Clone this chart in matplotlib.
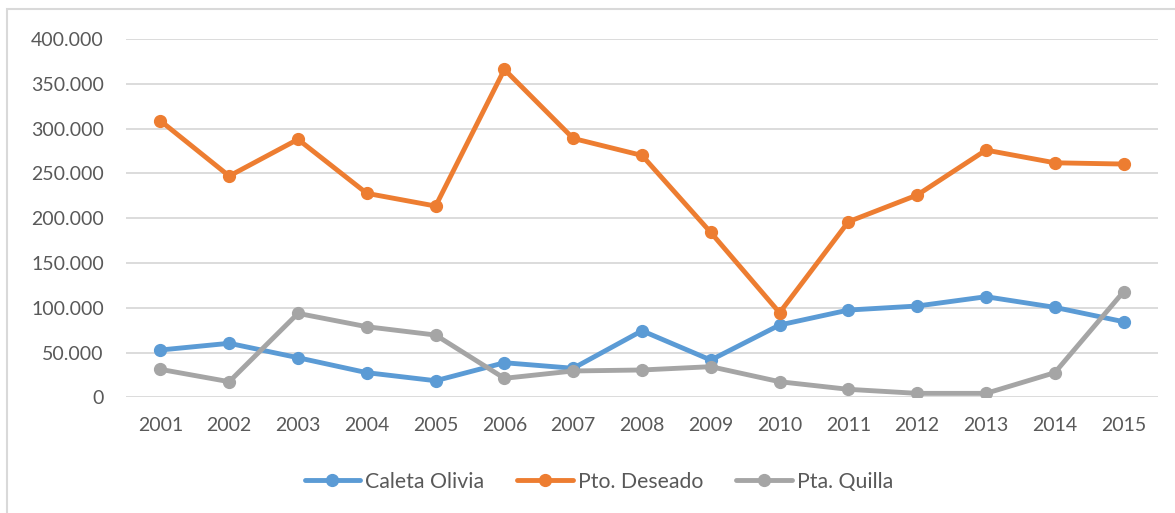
import matplotlib.pyplot as plt
from matplotlib.patches import Rectangle
from matplotlib.ticker import FuncFormatter

# Data
years = [2001, 2002, 2003, 2004, 2005, 2006, 2007, 2008,
         2009, 2010, 2011, 2012, 2013, 2014, 2015]
caleta_olivia = [52800, 60300, 44200, 27500, 18500, 38600, 32400, 74300,
                 41600, 80700, 97400, 101900, 112300, 100400, 84400]
pto_deseado = [308700, 247000, 288000, 227700, 213500, 366000, 289000, 270000,
               184000, 94400, 196000, 225800, 276000, 261800, 260400]
pta_quilla = [31200, 17400, 93700, 78800, 69500, 21200, 29400, 30500,
              34200, 17400, 8900, 4400, 4400, 27500, 117900]
series_names = ["Caleta Olivia", "Pto. Deseado", "Pta. Quilla"]
colors = ["#5B9BD5", "#ED7D31", "#A5A5A5"]

plt.rcParams['font.family'] = ['Lato', 'DejaVu Sans']

W, H = 1175, 513
fig = plt.figure(figsize=(W / 100, H / 100), dpi=100)
ax = fig.add_axes([126 / W, 1 - 397.3 / H, (1158 - 126) / W, (397.3 - 39) / H])

for vals, name, c in zip([caleta_olivia, pto_deseado, pta_quilla], series_names, colors):
    ax.plot(years, vals, color=c, lw=3.5, marker="o", markersize=8.5,
            label=name, solid_joinstyle="round", solid_capstyle="round")

ax.set_xlim(2000.5, 2015.5)
ax.set_ylim(0, 400000)
ax.set_xticks(years)
ax.set_yticks(range(0, 400001, 50000))
ax.yaxis.set_major_formatter(FuncFormatter(lambda v, p: f"{int(v):,}".replace(",", ".")))
ax.grid(axis="y", color="#D9D9D9", lw=1.3)
ax.set_axisbelow(True)
for s in ax.spines.values():
    s.set_visible(False)
ax.tick_params(axis="both", length=0, colors="#595959", labelsize=14)
ax.tick_params(axis="x", pad=14)
ax.tick_params(axis="y", pad=16)

# chart area border
fig.patches.append(Rectangle((7 / W, -0.1), 1.2, 1 - 9 / H + 0.1, transform=fig.transFigure,
                             fill=False, edgecolor="#D9D9D9", lw=1.5))

leg = fig.legend(loc="center", bbox_to_anchor=(599 / W, 1 - 481.7 / H), ncol=3, frameon=False,
                 fontsize=15.3, handlelength=2.6, handletextpad=0.25, columnspacing=1.55)
for t in leg.get_texts():
    t.set_color("#595959")

fig.savefig("out.png", dpi=100)
